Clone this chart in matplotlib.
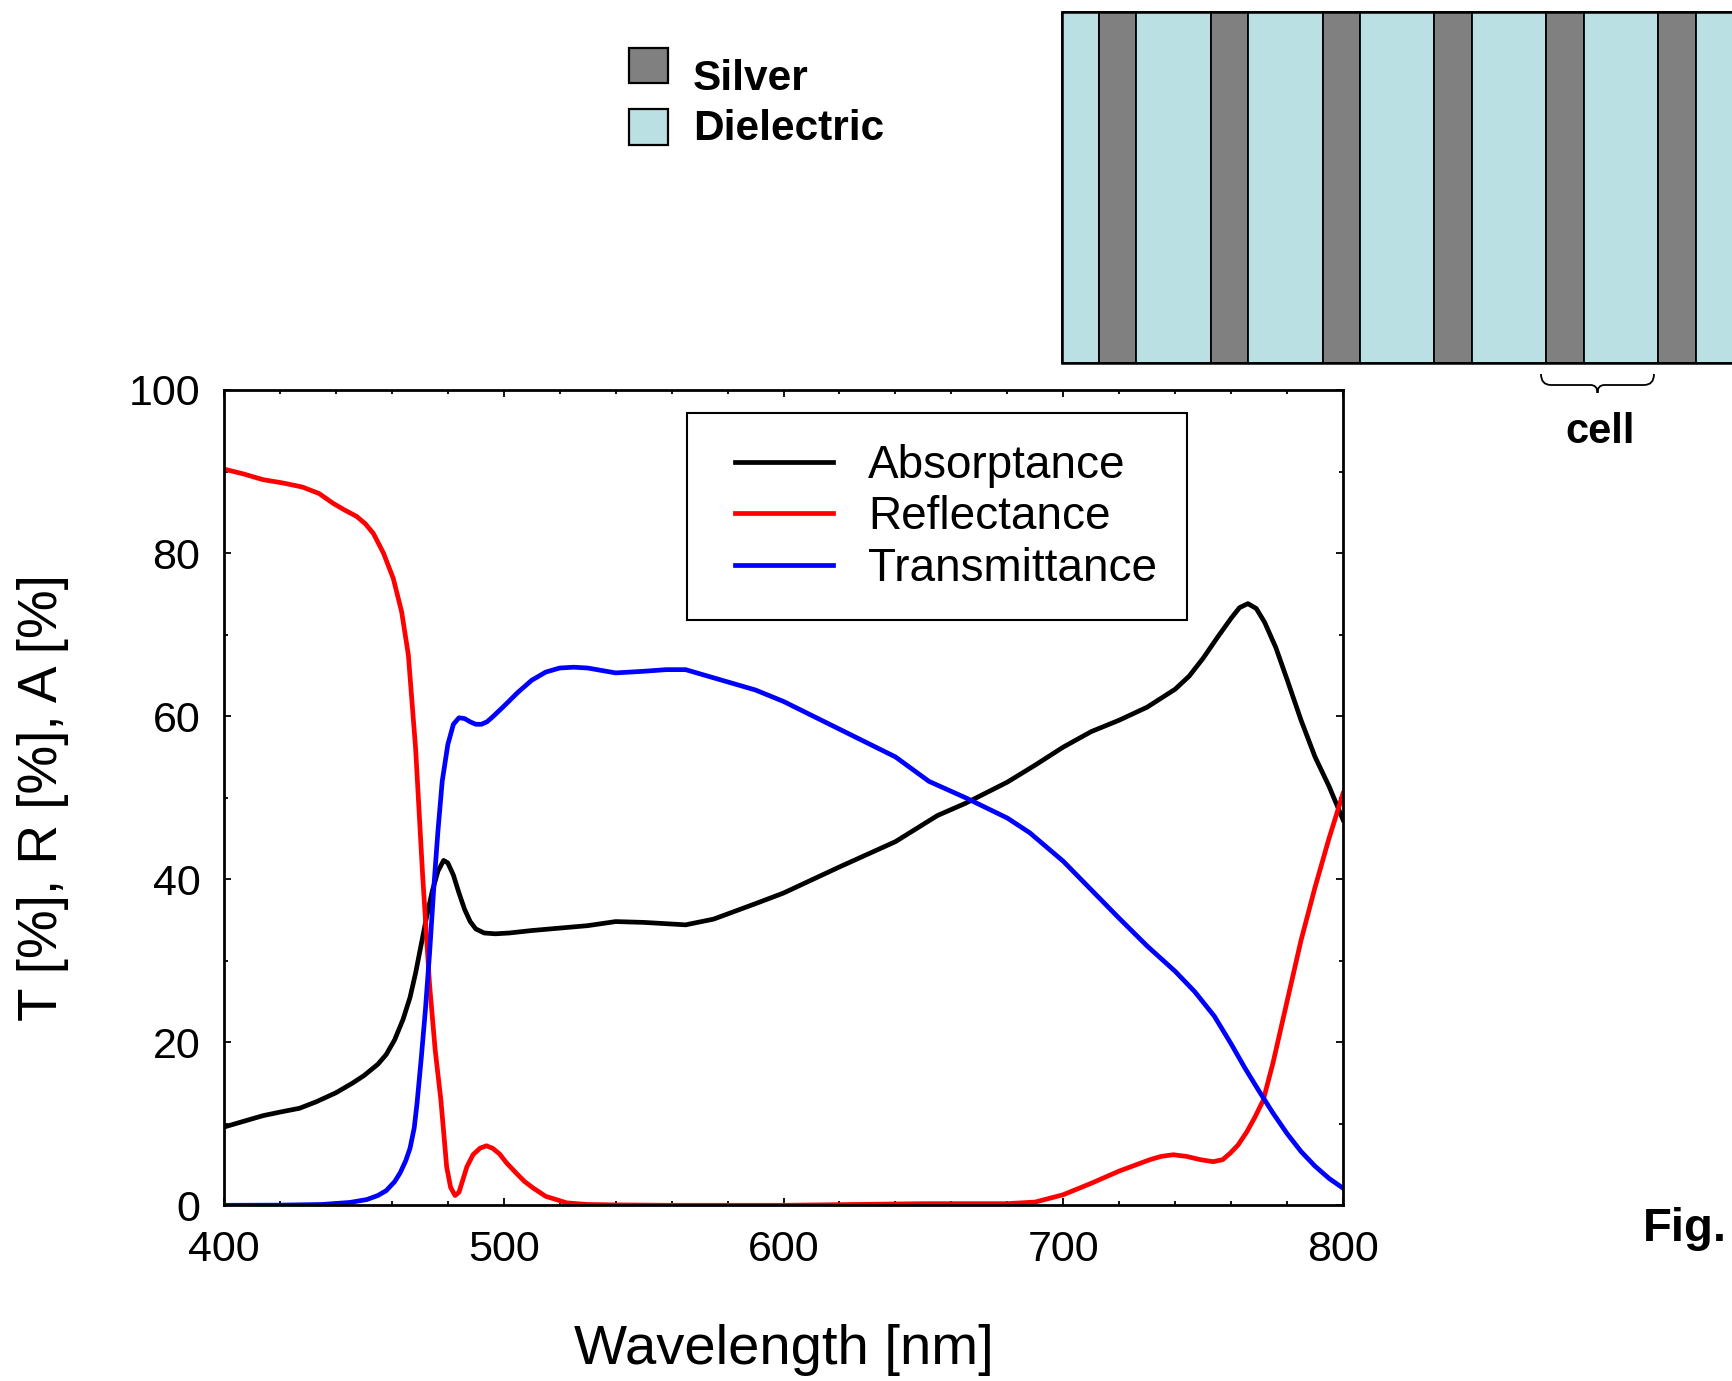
import numpy as np
import matplotlib.pyplot as plt
from matplotlib.patches import Rectangle, PathPatch
from matplotlib.path import Path
from matplotlib.ticker import MultipleLocator

plt.rcParams['font.family'] = ['Liberation Sans', 'DejaVu Sans']

# ---- spectra (wavelength in nm, values in %) ----
wl_R = [400, 407, 414, 421, 428, 434, 439, 443, 447.4, 450.5, 453.4, 457, 460.5,
        463.5, 465.9, 468.5, 471, 473.5, 475.5, 477.5, 479.6, 481, 482.6, 484,
        486.8, 489, 491.5, 493.8, 496, 498.5, 501, 504.6, 507.5, 510.6, 515,
        522.5, 530, 540, 560, 600, 650, 680, 690, 700, 710, 720, 731, 735,
        739.3, 744, 749, 753.6, 757, 759.7, 762.5, 765.6, 768.5, 771.5, 775,
        780, 785, 790, 795, 800]
refl = [90.3, 89.7, 89.0, 88.6, 88.1, 87.3, 86.1, 85.3, 84.5, 83.6, 82.4, 80.0, 76.9,
        72.8, 67.5, 56.0, 40.5, 27.0, 19.0, 13.0, 4.7, 2.2, 1.2, 1.6,
        4.7, 6.2, 7.0, 7.3, 7.0, 6.3, 5.2, 3.9, 2.9, 2.1, 1.1,
        0.3, 0.1, 0.05, 0.0, 0.0, 0.2, 0.2, 0.4, 1.3, 2.7, 4.2, 5.6, 6.0,
        6.2, 6.0, 5.6, 5.35, 5.6, 6.4, 7.4, 9.0, 10.8, 12.9, 17.5,
        25.0, 32.5, 39.0, 45.0, 50.5]

wl_T = [400, 420, 435, 445, 451, 455, 458, 461, 463, 465, 466.5, 468, 469, 470.5,
        472, 473.5, 475, 476.5, 478, 480, 482, 484, 486, 488, 490, 492, 494, 496,
        500, 505, 510, 515, 520, 525, 530, 535, 540, 550, 558, 565, 575, 590, 600,
        620, 640, 652, 665, 680, 688, 700, 710, 720, 730, 740, 747, 754, 760, 765,
        770, 775, 780, 785, 790, 795, 800]
trans = [0.0, 0.02, 0.1, 0.35, 0.7, 1.2, 1.8, 2.9, 4.0, 5.5, 7.0, 9.5, 12.5, 18.0,
         24.0, 31.0, 39.0, 46.0, 52.0, 56.5, 59.0, 59.8, 59.7, 59.3, 59.0, 59.0, 59.3, 59.9,
         61.2, 62.9, 64.4, 65.4, 65.9, 66.0, 65.9, 65.6, 65.3, 65.5, 65.7, 65.7, 64.7, 63.2, 61.8,
         58.4, 55.0, 52.0, 50.0, 47.5, 45.7, 42.2, 38.7, 35.2, 31.8, 28.7, 26.2, 23.2, 19.8, 16.8,
         14.0, 11.3, 8.8, 6.6, 4.8, 3.3, 2.1]

wl_A = [400, 407, 414, 421, 427, 433, 440, 446, 450, 455, 458, 461, 464, 466.5,
        468.5, 470.5, 472.5, 474.5, 476.5, 478.5, 480, 482, 484, 486, 488, 490, 493,
        497, 502, 510, 520, 530, 540, 550, 565, 575, 590, 600, 620, 640, 655, 665,
        680, 690, 700, 710, 720, 730, 740, 745, 750, 755, 760, 763, 766, 769, 772, 776,
        780, 785, 790, 795, 800]
absorb = [9.6, 10.3, 11.0, 11.5, 11.9, 12.7, 13.8, 15.0, 15.9, 17.3, 18.5, 20.3, 22.8, 25.5,
          28.5, 32.0, 35.5, 38.6, 41.0, 42.3, 42.0, 40.5, 38.3, 36.3, 34.8, 33.9, 33.4,
          33.3, 33.4, 33.7, 34.0, 34.3, 34.8, 34.7, 34.4, 35.1, 37.0, 38.3, 41.5, 44.6, 47.8, 49.3,
          51.9, 54.0, 56.2, 58.1, 59.5, 61.1, 63.3, 64.9, 67.1, 69.6, 72.0, 73.3, 73.8, 73.2, 71.5, 68.4,
          64.5, 59.5, 55.0, 51.4, 47.3]

series_labels = ['Absorptance', 'Reflectance', 'Transmittance']
series_colors = ['black', 'red', 'blue']

# layer stack of the sketch (thickness in units of one silver layer)
layer_mat = ['Dielectric', 'Silver', 'Dielectric', 'Silver', 'Dielectric', 'Silver',
             'Dielectric', 'Silver', 'Dielectric', 'Silver', 'Dielectric', 'Silver',
             'Dielectric']
layer_thk = [1, 1, 2, 1, 2, 1, 2, 1, 2, 1, 2, 1, 3]
mat_color = {'Silver': '#808080', 'Dielectric': '#bbe0e3'}

W, H = 1732, 1381
fig = plt.figure(figsize=(W / 100, H / 100), dpi=100)

# main plot
ax = fig.add_axes([224 / W, 1 - 1205.3 / H, 1119 / W, 815.3 / H])
ax.plot(wl_A, absorb, color=series_colors[0], lw=3.4, label=series_labels[0])
ax.plot(wl_R, refl, color=series_colors[1], lw=3.4, label=series_labels[1])
ax.plot(wl_T, trans, color=series_colors[2], lw=3.4, label=series_labels[2])
ax.set_xlim(400, 800)
ax.set_ylim(0, 100)
ax.set_xticks([400, 500, 600, 700, 800])
ax.set_yticks([0, 20, 40, 60, 80, 100])
ax.xaxis.set_minor_locator(MultipleLocator(20))
ax.yaxis.set_minor_locator(MultipleLocator(10))
ax.tick_params(which='both', direction='in', top=True, right=True, width=1.3)
ax.tick_params(which='major', length=4.8, labelsize=31)
ax.tick_params(which='minor', length=3.1)
ax.tick_params(axis='x', which='major', pad=18)
ax.tick_params(axis='y', which='major', pad=17)
for s in ax.spines.values():
    s.set_linewidth(2.0)

ax.set_xlabel('Wavelength [nm]', fontsize=40.5)
ax.xaxis.label.set_va('baseline')
ax.xaxis.set_label_coords(0.5, -(1364 - 1205.3) / 815.3)
ax.set_ylabel('T [%], R [%], A [%]', fontsize=39.5)
ax.yaxis.label.set_va('center')
ax.yaxis.set_label_coords((42.5 - 224) / 1119, 0.5)

leg = ax.legend(loc='upper left', bbox_to_anchor=(735 / W, 1 - 444 / H),
                bbox_transform=fig.transFigure, frameon=False, fontsize=33,
                handlelength=2.14, handletextpad=0.77, labelspacing=0.16,
                borderpad=0, borderaxespad=0)

# overlay in pixel coordinates for the sketch and the annotations
ov = fig.add_axes([0, 0, 1, 1], zorder=5)
ov.set_xlim(0, W)
ov.set_ylim(H, 0)
ov.axis('off')
ov.patch.set_alpha(0)

# legend frame of the plot
ov.add_patch(Rectangle((687.3, 413.3), 500, 206.7, fill=False, ec='black', lw=1.5))

# layer stack
unit = 37.3
x0 = 1061.5
x = x0
for m, t in zip(layer_mat, layer_thk):
    ov.add_patch(Rectangle((x, 12), t * unit, 351, fc=mat_color[m], ec='black', lw=1.3))
    x += t * unit
ov.add_patch(Rectangle((x0, 12), x - x0, 351, fill=False, ec='black', lw=1.8))

# material key
ov.add_patch(Rectangle((629.3, 48.3), 39, 35, fc=mat_color['Silver'], ec='black', lw=1.6))
ov.add_patch(Rectangle((629.3, 109), 39, 36, fc=mat_color['Dielectric'], ec='black', lw=1.6))
ov.text(693, 90, 'Silver', fontsize=30.5, fontweight='bold', va='baseline')
ov.text(693, 140, 'Dielectric', fontsize=30.5, fontweight='bold', va='baseline')

# brace under one cell
xa, xb = 1541, 1654
xm = (xa + xb) / 2
verts = [(xa, 374), (xa, 385), (xa + 10, 385), (xm - 7, 385), (xm, 385), (xm, 393),
         (xm, 385), (xm + 7, 385), (xb - 10, 385), (xb, 385), (xb, 374)]
codes = [Path.MOVETO, Path.CURVE3, Path.CURVE3, Path.LINETO, Path.CURVE3, Path.CURVE3,
         Path.CURVE3, Path.CURVE3, Path.LINETO, Path.CURVE3, Path.CURVE3]
ov.add_patch(PathPatch(Path(verts, codes), fill=False, ec='black', lw=1.3))
ov.text(1600.5, 443, 'cell', fontsize=30, fontweight='bold', ha='center', va='baseline')

ov.text(1643, 1241, 'Fig.', fontsize=34, fontweight='bold', va='baseline')

fig.savefig('out.png', dpi=100)
